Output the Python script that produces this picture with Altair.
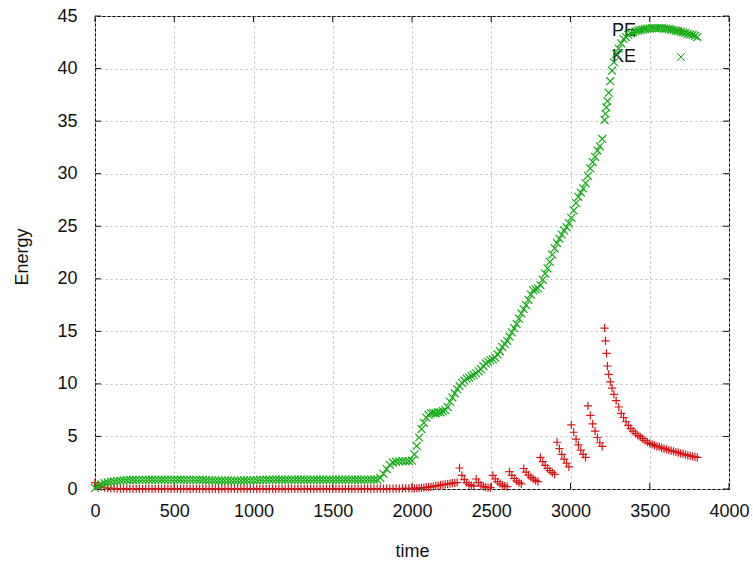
import altair as alt
import pandas as pd

# ---------------- data ----------------
time_a = list(range(0, 2000, 20))
time_b = (list(range(2000, 3201, 15))
          + [3215, 3221, 3227, 3233, 3241, 3251, 3262, 3274, 3288, 3304]
          + list(range(3320, 3801, 15)))

pe_a = [0.6, 0.35, 0.2, 0.12, 0.08, 0.06, 0.05, 0.04, 0.04, 0.03,
        0.03, 0.03, 0.02, 0.03, 0.03, 0.02, 0.03, 0.03, 0.02, 0.03,
        0.03, 0.02, 0.03, 0.03, 0.02, 0.03, 0.03, 0.02, 0.03, 0.03,
        0.02, 0.03, 0.03, 0.02, 0.03, 0.03, 0.02, 0.03, 0.03, 0.02,
        0.03, 0.03, 0.02, 0.03, 0.03, 0.02, 0.03, 0.03, 0.02, 0.03,
        0.03, 0.02, 0.03, 0.03, 0.02, 0.03, 0.03, 0.02, 0.03, 0.03,
        0.02, 0.03, 0.03, 0.02, 0.03, 0.03, 0.02, 0.03, 0.03, 0.02,
        0.03, 0.03, 0.02, 0.03, 0.03, 0.02, 0.03, 0.03, 0.02, 0.03,
        0.03, 0.02, 0.03, 0.03, 0.02, 0.03, 0.03, 0.03, 0.03, 0.03,
        0.03, 0.03, 0.04, 0.04, 0.04, 0.04, 0.04, 0.05, 0.05, 0.05]
pe_b = [0.05, 0.06, 0.07, 0.09, 0.11, 0.13, 0.15, 0.18, 0.21, 0.25,
        0.29, 0.33, 0.37, 0.41, 0.45, 0.49, 0.52, 0.55, 0.58, 0.62,
        2.0, 1.3, 0.9, 0.6, 0.42, 0.32, 0.28, 0.95, 0.6, 0.38,
        0.24, 0.17, 0.14, 0.13, 1.3, 0.95, 0.7, 0.5, 0.36, 0.27,
        0.22, 1.65, 1.3, 1.0, 0.78, 0.6, 0.48, 1.95, 1.6, 1.32,
        1.1, 0.93, 0.8, 0.7, 3.0, 2.6, 2.25, 1.97, 1.75, 1.55,
        1.4, 4.45, 3.85, 3.3, 2.85, 2.45, 2.1, 6.1, 5.4, 4.75,
        4.2, 3.7, 3.3, 3.0, 7.9, 7.0, 6.2, 5.5, 4.9, 4.4,
        4.05,
        15.3, 14.1, 12.9, 11.7, 10.9, 10.2, 9.6, 9.0, 8.4, 7.8,
        7.2, 6.8, 6.4, 6.05, 5.75, 5.5, 5.3, 5.1, 4.95, 4.8,
        4.6, 4.45, 4.35, 4.25, 4.15, 4.05, 4.0, 3.92, 3.85, 3.78,
        3.7, 3.64, 3.58, 3.52, 3.46, 3.4, 3.33, 3.27, 3.2, 3.15,
        3.1, 3.05, 3.0]

ke_a = [0.1, 0.3, 0.45, 0.55, 0.62, 0.68, 0.72, 0.76, 0.79, 0.82,
        0.84, 0.85, 0.86, 0.87, 0.88, 0.88, 0.88, 0.89, 0.89, 0.88,
        0.88, 0.89, 0.89, 0.88, 0.88, 0.88, 0.89, 0.89, 0.88, 0.88,
        0.88, 0.88, 0.88, 0.87, 0.86, 0.84, 0.82, 0.81, 0.8, 0.8,
        0.8, 0.8, 0.8, 0.8, 0.8, 0.8, 0.8, 0.81, 0.81, 0.82,
        0.83, 0.85, 0.87, 0.88, 0.89, 0.89, 0.9, 0.9, 0.89, 0.89,
        0.89, 0.9, 0.9, 0.9, 0.89, 0.89, 0.9, 0.9, 0.9, 0.89,
        0.89, 0.89, 0.9, 0.9, 0.9, 0.89, 0.89, 0.9, 0.9, 0.9,
        0.9, 0.89, 0.89, 0.9, 0.9, 0.9, 0.9, 0.89, 0.89, 0.9,
        1.05, 1.45, 1.9, 2.3, 2.5, 2.6, 2.62, 2.65, 2.63, 2.66]
ke_b = [2.7, 3.3, 4.1, 4.9, 5.7, 6.3, 6.8, 7.05, 7.2, 7.25,
        7.2, 7.3, 7.3, 7.4, 7.5, 7.8, 8.3, 8.7, 9.1, 9.5,
        9.8, 10.1, 10.3, 10.5, 10.6, 10.75, 10.85, 11.0, 11.2, 11.4,
        11.7, 11.95, 12.1, 12.25, 12.35, 12.5, 12.8, 13.1, 13.5, 13.8,
        14.1, 14.5, 14.9, 15.3, 15.7, 16.2, 16.7, 17.1, 17.5, 18.0,
        18.5, 18.9, 19.0, 19.1, 19.4, 19.9, 20.5, 21.0, 21.6, 22.3,
        22.9, 23.4, 23.8, 24.2, 24.6, 24.9, 25.3, 25.8, 26.5, 27.2,
        27.8, 28.2, 28.6, 29.1, 29.8, 30.5, 31.1, 31.6, 32.2, 32.6,
        33.3,
        35.1, 35.7, 36.3, 36.9, 37.7, 38.8, 39.8, 40.6, 41.4, 41.9,
        42.4, 42.8, 43.0, 43.2, 43.35, 43.45, 43.55, 43.6, 43.65, 43.7,
        43.75, 43.8, 43.8, 43.85, 43.85, 43.85, 43.85, 43.85, 43.8, 43.8,
        43.75, 43.7, 43.65, 43.6, 43.55, 43.5, 43.45, 43.4, 43.3, 43.25,
        43.2, 43.1, 43.0]

series_names = ["PE", "KE"]
x_ticks = [0, 500, 1000, 1500, 2000, 2500, 3000, 3500, 4000]
y_ticks = [0, 5, 10, 15, 20, 25, 30, 35, 40, 45]

time = time_a + time_b
pe = pe_a + pe_b
ke = ke_a + ke_b
assert len(time) == len(pe) == len(ke)

pe_df = pd.DataFrame({"time": time, "energy": pe})
ke_df = pd.DataFrame({"time": time, "energy": ke})
xt_df = pd.DataFrame({"time": x_ticks})
yt_df = pd.DataFrame({"energy": y_ticks})

# ---------------- style ----------------
W, H = 634, 473
FONT = "Liberation Sans"
FS = 18
TXT = "#111111"
RED = "#d81414"
GREEN = "#14ac14"
PLUS = "M-1,0L1,0M0,-1L0,1"
CROSS = "M-1,-1L1,1M-1,1L1,-1"
MSIZE = 68
TICK = 6

xscale = alt.Scale(domain=[0, 4000], nice=False, zero=False)
yscale = alt.Scale(domain=[0, 45], nice=False, zero=False)

x_axis = alt.Axis(values=x_ticks, title="time", format="d", labelPadding=13, labelFlush=False,
                  labelOverlap=False, titleX=W / 2, titleY=62, titleBaseline="middle")
y_axis = alt.Axis(values=y_ticks, title="Energy", format="d", labelPadding=18, labelFlush=False,
                  labelOverlap=False, titleX=-73, titleY=H / 2 + 4, titleBaseline="middle")

X = alt.X("time:Q", scale=xscale, axis=x_axis)
Y = alt.Y("energy:Q", scale=yscale, axis=y_axis)

empty = pd.DataFrame({"d": [0]})

tick_bottom = alt.Chart(xt_df).mark_rule(color=TXT, strokeWidth=1).encode(
    x=X, y=alt.value(H), y2=alt.value(H - TICK))
tick_top = alt.Chart(xt_df).mark_rule(color=TXT, strokeWidth=1).encode(
    x=X, y=alt.value(0), y2=alt.value(TICK))
tick_left = alt.Chart(yt_df).mark_rule(color=TXT, strokeWidth=1).encode(
    y=Y, x=alt.value(0), x2=alt.value(TICK))
tick_right = alt.Chart(yt_df).mark_rule(color=TXT, strokeWidth=1).encode(
    y=Y, x=alt.value(W - TICK), x2=alt.value(W))

leg_pe_text = alt.Chart(empty).mark_text(align="left", baseline="middle", font=FONT,
                                         fontSize=FS, color=TXT).encode(
    x=alt.value(517), y=alt.value(15), text=alt.value(series_names[0]))
leg_ke_text = alt.Chart(empty).mark_text(align="left", baseline="middle", font=FONT,
                                         fontSize=FS, color=TXT).encode(
    x=alt.value(517), y=alt.value(41), text=alt.value(series_names[1]))

leg_pe_mark = alt.Chart(empty).mark_point(shape=PLUS, size=MSIZE, filled=False, color=RED,
                                          strokeWidth=1.1, opacity=1).encode(
    x=alt.value(586), y=alt.value(15))
leg_ke_mark = alt.Chart(empty).mark_point(shape=CROSS, size=MSIZE - 10, filled=False, color=GREEN,
                                          strokeWidth=1, opacity=1).encode(
    x=alt.value(586), y=alt.value(41))

pe_pts = alt.Chart(pe_df).mark_point(shape=PLUS, size=MSIZE, filled=False, color=RED,
                                     strokeWidth=1.2, opacity=1, clip=False).encode(x=X, y=Y)
ke_pts = alt.Chart(ke_df).mark_point(shape=CROSS, size=MSIZE - 6, filled=False, color=GREEN,
                                     strokeWidth=1.2, opacity=1, clip=False).encode(x=X, y=Y)

chart = alt.layer(
    tick_bottom, tick_top, tick_left, tick_right,
    leg_pe_text, leg_ke_text, leg_pe_mark, pe_pts, ke_pts, leg_ke_mark,
).properties(
    width=W, height=H,
    autosize=alt.AutoSizeParams(type="none"),
    padding={"left": 95, "top": 16, "right": 24, "bottom": 73},
    background="white",
).configure_view(
    stroke="black", strokeWidth=1
).configure_axis(
    grid=True, gridColor="#bdbdbd", gridDash=[2, 3], gridWidth=1,
    domain=False, ticks=False,
    labelFont=FONT, labelFontSize=FS, labelColor=TXT,
    titleFont=FONT, titleFontSize=FS, titleFontWeight="normal", titleColor=TXT,
)

chart.save("out.html", embed_options={"renderer": "svg", "actions": False})
